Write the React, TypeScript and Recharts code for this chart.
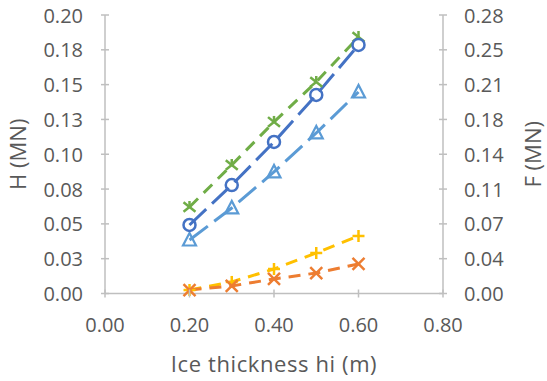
import React from 'react';
import { LineChart, Line, XAxis, YAxis } from 'recharts';

const thickness = [0.2, 0.3, 0.4, 0.5, 0.6];
const hCircle = [0.0492, 0.0779, 0.1088, 0.1426, 0.1785];
const hStar = [0.0621, 0.0923, 0.1232, 0.1519, 0.1842];
const fTriangle = [0.0538, 0.086, 0.1222, 0.1614, 0.2026];
const hPlus = [0.0025, 0.0083, 0.0176, 0.0291, 0.0413];
const fCross = [0.0035, 0.0076, 0.0146, 0.0206, 0.0297];

const xTicks = [0, 0.2, 0.4, 0.6, 0.8];
const xTickLabels = ['0.00', '0.20', '0.40', '0.60', '0.80'];
const leftTicks = [0, 0.025, 0.05, 0.075, 0.1, 0.125, 0.15, 0.175, 0.2];
const leftTickLabels = ['0.00', '0.03', '0.05', '0.08', '0.10', '0.13', '0.15', '0.18', '0.20'];
const rightTicks = [0, 0.035, 0.07, 0.105, 0.14, 0.175, 0.21, 0.245, 0.28];
const rightTickLabels = ['0.00', '0.04', '0.07', '0.11', '0.14', '0.18', '0.21', '0.25', '0.28'];

const data = thickness.map((x, i) => ({
  x,
  circle: hCircle[i],
  star: hStar[i],
  triangle: fTriangle[i],
  plus: hPlus[i],
  cross: fCross[i],
}));

const FONT = '"Open Sans", sans-serif';
const TEXT = '#595959';
const AXIS = '#BFBFBF';
const FS = 20;
const TFS = 22;

const labelFor = (ticks: number[], labels: string[], v: number) => {
  let best = 0;
  ticks.forEach((t, i) => {
    if (Math.abs(t - v) < Math.abs(ticks[best] - v)) best = i;
  });
  return labels[best];
};

const LeftTick = (props: any) => {
  const { x, y, payload } = props;
  return (
    <g>
      <line x1={x - 4} x2={x + 4} y1={y} y2={y} stroke={AXIS} strokeWidth={1.5} />
      <text x={x - 22} y={y} textAnchor="end" dominantBaseline="central" fill={TEXT} fontSize={FS} fontFamily={FONT}>
        {labelFor(leftTicks, leftTickLabels, payload.value)}
      </text>
    </g>
  );
};

const RightTick = (props: any) => {
  const { x, y, payload } = props;
  return (
    <g>
      <line x1={x - 4} x2={x + 4} y1={y} y2={y} stroke={AXIS} strokeWidth={1.5} />
      <text x={x + 21} y={y} textAnchor="start" dominantBaseline="central" fill={TEXT} fontSize={FS} fontFamily={FONT}>
        {labelFor(rightTicks, rightTickLabels, payload.value)}
      </text>
    </g>
  );
};

const BottomTick = (props: any) => {
  const { x, y, payload } = props;
  return (
    <g>
      <line x1={x} x2={x} y1={y - 4} y2={y + 4} stroke={AXIS} strokeWidth={1.5} />
      <text x={x} y={y + 30.5} textAnchor="middle" dominantBaseline="central" fill={TEXT} fontSize={FS} fontFamily={FONT}>
        {labelFor(xTicks, xTickLabels, payload.value)}
      </text>
    </g>
  );
};

const makeDot = (kind: string, color: string) => (props: any) => {
  const { cx, cy, index } = props;
  if (cx == null || cy == null) return <g key={index} />;
  const s = 6;
  if (kind === 'circle') {
    return <circle key={index} cx={cx} cy={cy} r={s} fill="none" stroke={color} strokeWidth={2.5} />;
  }
  if (kind === 'triangle') {
    return (
      <polygon
        key={index}
        points={`${cx},${cy - s - 1} ${cx - s - 0.5},${cy + s - 0.5} ${cx + s + 0.5},${cy + s - 0.5}`}
        fill="none"
        stroke={color}
        strokeWidth={2.2}
        strokeLinejoin="miter"
      />
    );
  }
  if (kind === 'plus') {
    return (
      <g key={index} stroke={color} strokeWidth={2.5}>
        <line x1={cx - s} x2={cx + s} y1={cy} y2={cy} />
        <line x1={cx} x2={cx} y1={cy - s} y2={cy + s} />
      </g>
    );
  }
  if (kind === 'cross') {
    return (
      <g key={index} stroke={color} strokeWidth={2.5}>
        <line x1={cx - s} x2={cx + s} y1={cy - s} y2={cy + s} />
        <line x1={cx - s} x2={cx + s} y1={cy + s} y2={cy - s} />
      </g>
    );
  }
  // star
  return (
    <g key={index} stroke={color} strokeWidth={2.5}>
      <line x1={cx} x2={cx} y1={cy - s} y2={cy} />
      <line x1={cx - s} x2={cx + s} y1={cy - s * 0.8} y2={cy + s * 0.8} />
      <line x1={cx - s} x2={cx} y1={cy + s * 0.8} y2={cy} />
    </g>
  );
};

const BLUE = '#4472C4';
const LBLUE = '#5B9BD5';
const GREEN = '#70AD47';
const ORANGE = '#ED7D31';
const GOLD = '#FFC000';

export default function App() {
  return (
    <div style={{ position: 'absolute', left: 0, top: 0, background: '#fff' }}>
      <LineChart width={547} height={381} data={data} margin={{ top: 15, right: 0, bottom: 27.5, left: 0 }}>
        <XAxis
          dataKey="x"
          type="number"
          domain={[0, 0.8]}
          ticks={xTicks}
          stroke={AXIS}
          strokeWidth={1.5}
          tickLine={false}
          tickSize={0}
          tickMargin={0}
          height={60}
          tick={<BottomTick />}
          interval={0}
          label={{
            content: (p: any) => {
              const vb = p.viewBox;
              return (
                <text x={vb.x + vb.width / 2} y={vb.y + 69} textAnchor="middle" dominantBaseline="central" fill={TEXT} fontSize={TFS} fontFamily={FONT} letterSpacing={0.6}>
                  Ice thickness hi (m)
                </text>
              );
            },
          }}
        />
        <YAxis
          yAxisId="left"
          orientation="left"
          type="number"
          domain={[0, 0.2]}
          ticks={leftTicks}
          width={105}
          stroke={AXIS}
          strokeWidth={1.5}
          tickLine={false}
          tickSize={0}
          tickMargin={0}
          tick={<LeftTick />}
          interval={0}
          label={{
            content: (p: any) => {
              const vb = p.viewBox;
              const cx = vb.x + 17;
              const cy = vb.y + vb.height / 2;
              return (
                <text x={cx} y={cy} transform={`rotate(-90 ${cx} ${cy})`} textAnchor="middle" dominantBaseline="central" fill={TEXT} fontSize={TFS} fontFamily={FONT}>
                  H (MN)
                </text>
              );
            },
          }}
        />
        <YAxis
          yAxisId="right"
          orientation="right"
          type="number"
          domain={[0, 0.28]}
          ticks={rightTicks}
          width={104}
          stroke={AXIS}
          strokeWidth={1.5}
          tickLine={false}
          tickSize={0}
          tickMargin={0}
          tick={<RightTick />}
          interval={0}
          label={{
            content: (p: any) => {
              const vb = p.viewBox;
              const cx = vb.x + 89;
              const cy = vb.y + vb.height / 2;
              return (
                <text x={cx} y={cy} transform={`rotate(-90 ${cx} ${cy})`} textAnchor="middle" dominantBaseline="central" fill={TEXT} fontSize={TFS} fontFamily={FONT}>
                  F (MN)
                </text>
              );
            },
          }}
        />
        <Line yAxisId="left" dataKey="star" stroke={GREEN} strokeWidth={3} strokeDasharray="12 8" dot={makeDot('star', GREEN)} isAnimationActive={false} />
        <Line yAxisId="right" dataKey="triangle" stroke={LBLUE} strokeWidth={3} strokeDasharray="23 8" dot={makeDot('triangle', LBLUE)} isAnimationActive={false} />
        <Line yAxisId="left" dataKey="circle" stroke={BLUE} strokeWidth={3} strokeDasharray="23 8" dot={makeDot('circle', BLUE)} isAnimationActive={false} />
        <Line yAxisId="left" dataKey="plus" stroke={GOLD} strokeWidth={3} strokeDasharray="12 8" dot={makeDot('plus', GOLD)} isAnimationActive={false} />
        <Line yAxisId="right" dataKey="cross" stroke={ORANGE} strokeWidth={3} strokeDasharray="12 8" dot={makeDot('cross', ORANGE)} isAnimationActive={false} />
      </LineChart>
    </div>
  );
}
